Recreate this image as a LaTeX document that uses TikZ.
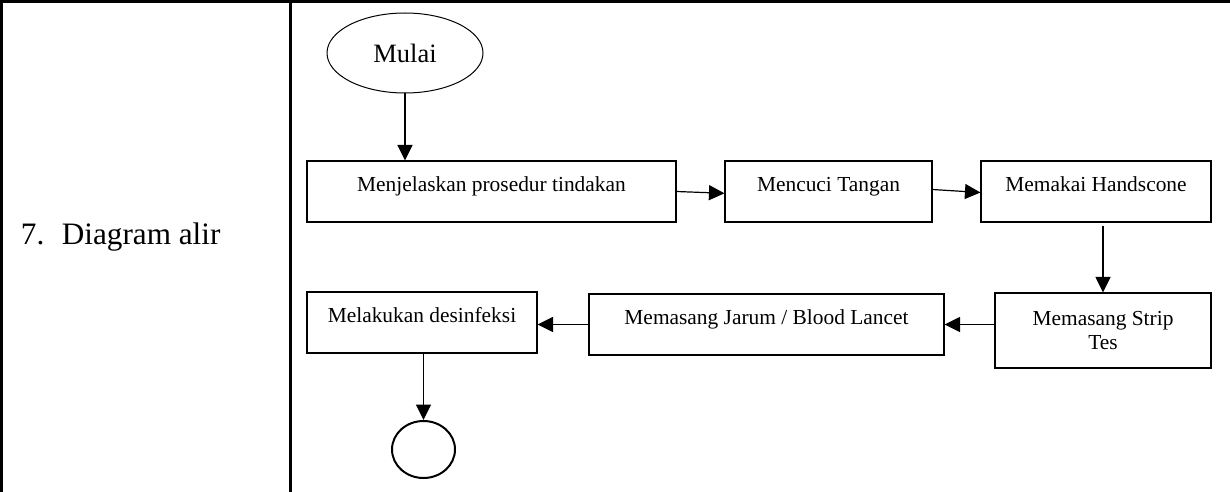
\documentclass[tikz,border=0pt]{standalone}
\usepackage{fontspec}
\setmainfont{Liberation Serif}
\usetikzlibrary{arrows.meta,shapes.geometric}
\tikzset{
  procbox/.style={draw=black, line width=1.1pt, rectangle, inner sep=0pt,
    font=\fontsize{21.4}{24.5}\selectfont, align=center},
  onerow/.style={text height=14pt, text depth=14pt},
  termshape/.style={draw=black, ellipse, inner sep=0pt},
  flowarrow/.style={draw=black, line width=1.2pt, -{Triangle[length=15.5pt,width=15pt]}},
  tableline/.style={draw=black, line width=2.6pt}
}
\begin{document}
\begin{tikzpicture}[x=1pt,y=-1pt]
\useasboundingbox (0,0) rectangle (1230,492);
% table frame
\draw[tableline] (0,1.5) -- (1230,1.5);
\draw[tableline] (1.5,0) -- (1.5,492);
\draw[tableline] (290.5,0) -- (290.5,492);
% left cell text
\node[anchor=base west, inner sep=0pt, font=\fontsize{31.2}{36}\selectfont] (lbl) at (20.7,244) {\makebox[41pt][l]{7.}Diagram alir};
% flow nodes
\node[termshape, line width=1pt, minimum width=156pt, minimum height=80pt,
      font=\fontsize{26.5}{30}\selectfont] (start) at (405,53) {Mulai};
\node[procbox, onerow, minimum width=369pt, minimum height=61pt] (b1) at (491.5,191.5) {Menjelaskan prosedur tindakan};
\node[procbox, onerow, minimum width=207pt, minimum height=61pt] (b2) at (828.5,191.5) {Mencuci Tangan};
\node[procbox, onerow, minimum width=230pt, minimum height=61pt] (b3) at (1096,191.5) {Memakai Handscone};
\node[procbox, minimum width=216pt, minimum height=75pt] (b4) at (1103,330.5) {Memasang Strip\\Tes};
\node[procbox, onerow, minimum width=355pt, minimum height=61pt] (b5) at (766.5,324.5) {Memasang Jarum / Blood Lancet};
\node[procbox, onerow, minimum width=230pt, minimum height=61pt] (b6) at (422,322.5) {Melakukan desinfeksi};
\node[termshape, line width=2pt, minimum width=63pt, minimum height=57pt] (stop) at (423.5,449.5) {};
% connectors
\draw[flowarrow] (start.south) -- (start.south |- b1.north);
\draw[flowarrow] (b1.east) -- ([yshift=-1.8pt]b2.west);
\draw[flowarrow] ([yshift=2pt]b2.east) -- ([yshift=-1pt]b3.west);
\draw[flowarrow] ([yshift=-3pt]b3.south -| b4.north) -- (b4.north);
\draw[flowarrow] (b4.west |- b5.east) -- (b5.east);
\draw[flowarrow] (b5.west) -- (b6.east |- b5.west);
\draw[flowarrow] (b6.south -| stop.north) -- (stop.north);
\end{tikzpicture}
\end{document}
